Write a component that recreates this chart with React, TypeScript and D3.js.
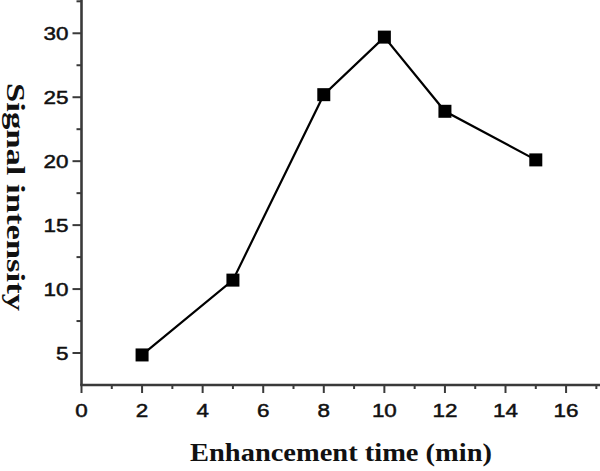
import React from "react";
import * as d3 from "d3";

const times = [2, 5, 8, 10, 12, 15];
const intensity = [4.85, 10.7, 25.2, 29.7, 23.9, 20.1];
const xMajorTicks = [0, 2, 4, 6, 8, 10, 12, 14, 16];
const xMinorTicks = [1, 3, 5, 7, 9, 11, 13, 15, 17];
const yMajorTicks = [5, 10, 15, 20, 25, 30];
const yMinorTicks = [7.5, 12.5, 17.5, 22.5, 27.5, 32.5];
const xTitle = "Enhancement time (min)";
const yTitle = "Signal intensity";

export default function App() {
  const W = 600, H = 471;
  const x = d3.scaleLinear().domain([0, 17.12]).range([81.5, 600]);
  const y = d3.scaleLinear().domain([2.5, 32.5]).range([385, 1.3]);
  const line = d3.line<number>().x((d, i) => x(times[i])).y((d) => y(d));
  const axisColor = "#3a3a3a";
  const pts = intensity.map((v, i) => [times[i], v]);
  return (
    <svg width={W} height={H} style={{ position: "absolute", left: 0, top: 0, background: "#fff" }}>
      {/* axes */}
      <line x1={x(0)} x2={x(0)} y1={0} y2={y(2.5)} stroke={axisColor} strokeWidth={2.6} />
      <line x1={x(0) - 1.3} x2={600} y1={y(2.5)} y2={y(2.5)} stroke={axisColor} strokeWidth={2.6} />
      {yMajorTicks.map((t) => (
        <g key={"ym" + t}>
          <line x1={x(0) - 9} x2={x(0)} y1={y(t)} y2={y(t)} stroke={axisColor} strokeWidth={2} />
          <text
            transform={`translate(${x(0) - 13},${y(t) + 7}) scale(1.18,1)`}
            textAnchor="end"
            fontFamily="Liberation Sans, Arial, sans-serif"
            fontSize={19}
            fill="#111"
            stroke="#111"
            strokeWidth={0.5}
          >
            {t}
          </text>
        </g>
      ))}
      {yMinorTicks.map((t) => (
        <line key={"yn" + t} x1={x(0) - 5} x2={x(0)} y1={y(t)} y2={y(t)} stroke={axisColor} strokeWidth={2} />
      ))}
      {xMajorTicks.map((t) => (
        <g key={"xm" + t}>
          <line x1={x(t)} x2={x(t)} y1={y(2.5)} y2={y(2.5) + 8} stroke={axisColor} strokeWidth={2} />
          <text
            transform={`translate(${x(t)},${417}) scale(1.18,1)`}
            textAnchor="middle"
            fontFamily="Liberation Sans, Arial, sans-serif"
            fontSize={19}
            fill="#111"
            stroke="#111"
            strokeWidth={0.5}
          >
            {t}
          </text>
        </g>
      ))}
      {xMinorTicks.map((t) => (
        <line key={"xn" + t} x1={x(t)} x2={x(t)} y1={y(2.5)} y2={y(2.5) + 4} stroke={axisColor} strokeWidth={2} />
      ))}
      {/* data */}
      <path d={line(intensity) || ""} fill="none" stroke="#000" strokeWidth={2.2} />
      {pts.map(([t, v]) => (
        <rect key={"p" + t} x={x(t) - 6.5} y={y(v) - 6.5} width={13} height={13} fill="#000" />
      ))}
      {/* titles */}
      <text
        x={341}
        y={461}
        textAnchor="middle"
        fontFamily="Liberation Serif, Times New Roman, serif"
        fontWeight="bold"
        fontSize={26}
        textLength={302}
        lengthAdjust="spacingAndGlyphs"
        fill="#111"
      >
        {xTitle}
      </text>
      <text
        transform="translate(7,197) rotate(90)"
        textAnchor="middle"
        fontFamily="Liberation Serif, Times New Roman, serif"
        fontWeight="bold"
        fontSize={25}
        textLength={228}
        lengthAdjust="spacingAndGlyphs"
        fill="#111"
      >
        {yTitle}
      </text>
    </svg>
  );
}
